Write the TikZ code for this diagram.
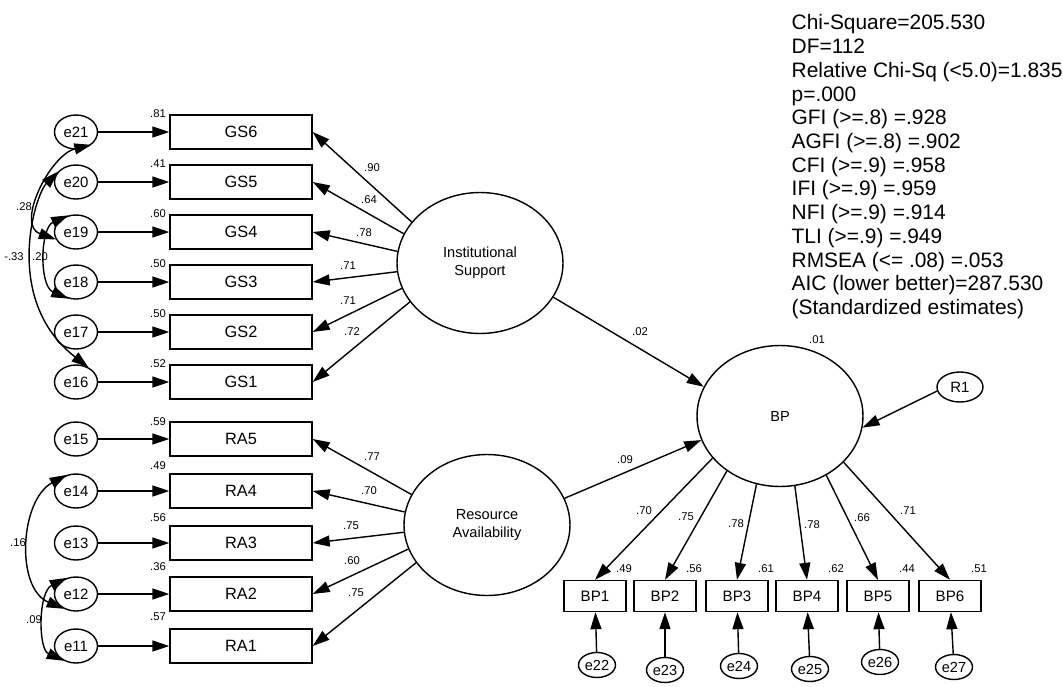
\documentclass[tikz,border=0pt]{standalone}
\usepackage{fontspec}
\setmainfont{Liberation Sans}
\usetikzlibrary{arrows.meta,shapes.geometric}

\tikzset{
  ind/.style={draw, rectangle, minimum width=2.84cm, minimum height=0.68cm, inner sep=0pt, font=\fontsize{9.3}{11}\selectfont},
  indbp/.style={draw, rectangle, minimum width=1.24cm, minimum height=0.62cm, inner sep=0pt, font=\fontsize{8.6}{10}\selectfont},
  err/.style={draw, ellipse, minimum width=0.86cm, minimum height=0.68cm, inner sep=0pt, font=\fontsize{8.5}{10}\selectfont},
  errbp/.style={draw, ellipse, minimum width=0.74cm, minimum height=0.5cm, inner sep=0pt, font=\fontsize{8.3}{10}\selectfont},
  latent/.style={draw, ellipse, minimum width=3.32cm, minimum height=2.82cm, inner sep=0pt, align=center, font=\fontsize{8.3}{10}\selectfont},
  coef/.style={inner sep=0pt, font=\fontsize{6.4}{7}\selectfont},
  reg/.style={-{Triangle[length=0.34cm,width=0.22cm]}},
  cov/.style={{Triangle[length=0.34cm,width=0.22cm]}-{Triangle[length=0.34cm,width=0.22cm]}}
}

\begin{document}
\begin{tikzpicture}[x=0.02cm, y=-0.02cm, line width=0.8pt]
    \useasboundingbox (0,0) rectangle (1063,687);

    \node[latent] (IS) at (480,263) {Institutional\\Support};
    \node[latent] (RA) at (487,525) {Resource\\Availability};
    \node[latent] (BP) at (780,416) {BP};
    \node[err, minimum width=0.92cm, minimum height=0.6cm] (R1) at (960,387) {R1};

    % institutional support
    \foreach \i/\y/\e/\r/\a/\v/\lx/\ly in {6/132/21/.81/149.5/.90/372/168, 5/182/20/.41/159.5/.64/369/200,
        4/232/19/.60/172/.78/364/233, 3/282/18/.50/186/.71/348/266, 2/332/17/.50/198/.71/348/301,
        1/382/16/.52/209/.72/352/332} {
        \node[ind] (GS\i) at (241,\y) {GS\i};
        \node[err] (e\e) at (76,\y) {e\e};
        \node[coef] (r\e) at (158,\y-18) {\r};
        \draw[reg] (e\e) -- (GS\i);
        \draw[reg] (IS.\a) -- (GS\i.east);
        \node[coef] (gl\i) at (\lx,\ly) {\v};
    }

    % resource availability
    \foreach \i/\y/\e/\r/\ry/\a/\v/\lx/\ly in {5/439/15/.59/422/158/.77/372/457, 4/491/14/.49/466/171/.70/369/491,
        3/543/13/.56/518/185/.75/351/526, 2/594/12/.36/567/197.6/.60/352/561, 1/646/11/.57/617/208/.75/356/593} {
        \node[ind] (RA\i) at (241,\y) {RA\i};
        \node[err] (e\e) at (76,\y) {e\e};
        \node[coef] (r\e) at (158,\ry) {\r};
        \draw[reg] (e\e) -- (RA\i);
        \draw[reg] (RA.\a) -- (RA\i.east);
        \node[coef] (al\i) at (\lx,\ly) {\v};
    }

    % BP indicators
    \foreach \i/\x/\a/\v/\lx/\ly/\r/\k/\ex/\ey in {1/595/212.5/.70/644/511/.49/22/597/665, 2/665/226.6/.75/686/517/.56/23/665/670,
        3/737/251/.78/736/524/.61/24/739/666, 4/807/282/.78/812/525/.62/25/810/669,
        5/878/308/.66/862/518/.44/26/880/662, 6/950/324/.71/908/511/.51/27/954/667} {
        \node[indbp] (BP\i) at (\x,596) {BP\i};
        \node[errbp] (e\k) at (\ex,\ey) {e\k};
        \node[coef] (r\k) at (\x+29,569) {\r};
        \draw[reg] (BP.\a) -- (BP\i.north);
        \draw[reg] (e\k) -- (BP\i);
        \node[coef] (bl\i) at (\lx,\ly) {\v};
    }

    \draw[reg] (IS.335) -- (BP.159);
    \draw[reg] (RA.19) -- (BP.197);
    \draw[reg] (R1.190) -- (BP.352);
    \node[coef] (p02) at (640,332) {.02};
    \node[coef] (p09) at (625,460) {.09};
    \node[coef] (r0) at (817,340) {.01};

    % error covariances
    \draw[cov] (e21.-40) .. controls (50,155) and (15,225) .. (e19.200);
    \draw[cov] (e20.150) .. controls (35,195) and (2,300) .. (e16.50);
    \draw[cov] (e19.115) .. controls (40,228) and (39,286) .. (e18.245);
    \draw[cov] (e14.120) .. controls (20,500) and (15,588) .. (e12.230);
    \draw[cov] (e12.120) .. controls (38,592) and (38,649) .. (e11.230);
    \node[coef] (c28) at (24,207) {.28};
    \node[coef] (c33) at (14,257) {-.33};
    \node[coef] (c20) at (40,257) {.20};
    \node[coef] (c16) at (18,543) {.16};
    \node[coef] (c09) at (34,620) {.09};

    \node[anchor=north west, inner sep=0pt, align=left, font=\fontsize{11.9}{13.5}\selectfont] (stats) at (791,14)
        {Chi-Square=205.530\\DF=112\\Relative Chi-Sq (<5.0)=1.835\\p=.000\\GFI (>=.8) =.928\\AGFI (>=.8) =.902\\
         CFI (>=.9) =.958\\IFI (>=.9) =.959\\NFI (>=.9) =.914\\TLI (>=.9) =.949\\RMSEA (<= .08) =.053\\
         AIC (lower better)=287.530\\(Standardized estimates)};
\end{tikzpicture}
\end{document}
